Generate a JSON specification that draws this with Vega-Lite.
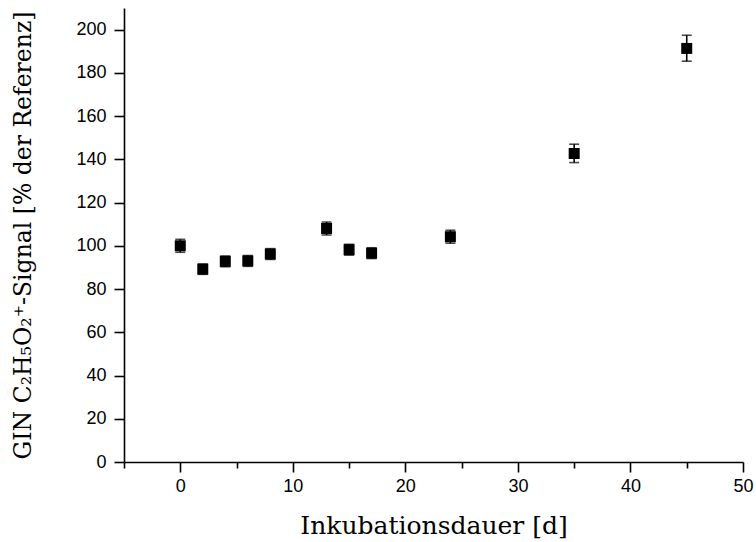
{
  "$schema": "https://vega.github.io/schema/vega-lite/v6.json",
  "width": 619,
  "height": 454,
  "autosize": {"type": "none"},
  "padding": {"left": 124, "top": 8, "right": 13, "bottom": 80},
  "background": "white",
  "config": {
    "view": {"stroke": null},
    "axis": {
      "grid": false,
      "domainColor": "black",
      "domainWidth": 1.6,
      "tickColor": "black",
      "tickWidth": 1.6,
      "labelFont": "Liberation Sans",
      "labelFontSize": 18,
      "labelColor": "black",
      "titleFont": "DejaVu Serif",
      "titleFontSize": 25,
      "titleFontWeight": "normal",
      "titleColor": "black"
    }
  },
  "data": {
    "values": [
      {"t": 0, "signal": 100.0, "lo": 97.0, "hi": 103.0},
      {"t": 2, "signal": 89.2, "lo": 86.8, "hi": 91.6},
      {"t": 4, "signal": 92.8, "lo": 90.3, "hi": 95.3},
      {"t": 6, "signal": 93.0, "lo": 90.5, "hi": 95.5},
      {"t": 8, "signal": 96.2, "lo": 93.7, "hi": 98.7},
      {"t": 13, "signal": 108.0, "lo": 105.0, "hi": 111.0},
      {"t": 15, "signal": 98.2, "lo": 95.7, "hi": 100.7},
      {"t": 17, "signal": 96.6, "lo": 94.1, "hi": 99.1},
      {"t": 24, "signal": 104.2, "lo": 101.2, "hi": 107.2},
      {"t": 35, "signal": 142.7, "lo": 138.5, "hi": 147.0},
      {"t": 45, "signal": 191.3, "lo": 185.4, "hi": 197.4}
    ]
  },
  "encoding": {
    "x": {
      "field": "t",
      "type": "quantitative",
      "scale": {"domain": [-5, 50], "nice": false, "zero": false},
      "axis": {
        "title": "Inkubationsdauer [d]",
        "values": [-5, 0, 5, 10, 15, 20, 25, 30, 35, 40, 45, 50],
        "labelExpr": "datum.value % 10 === 0 ? datum.label : ''",
        "tickSize": {"condition": {"test": "datum.value % 10 === 0", "value": 10}, "value": 6},
        "labelPadding": 5,
        "titlePadding": 18,
        "labelFlush": false
      }
    }
  },
  "layer": [
    {
      "mark": {"type": "rule", "color": "black", "strokeWidth": 1.6},
      "encoding": {
        "y": {
          "field": "lo",
          "type": "quantitative",
          "scale": {"domain": [0, 210], "nice": false},
          "axis": {
            "title": "GIN C₂H₅O₂⁺-Signal [% der Referenz]",
            "titleFontSize": 23.5,
            "values": [0, 10, 20, 30, 40, 50, 60, 70, 80, 90, 100, 110, 120, 130, 140, 150, 160, 170, 180, 190, 200, 210],
            "labelExpr": "datum.value % 20 === 0 && datum.value <= 200 ? datum.label : ''",
            "tickSize": {"condition": {"test": "datum.value % 20 === 0", "value": 10}, "value": 6},
            "labelPadding": 8,
            "titlePadding": 40,
            "labelFlush": false
          }
        },
        "y2": {"field": "hi"}
      }
    },
    {
      "mark": {"type": "tick", "orient": "horizontal", "color": "black", "size": 10, "thickness": 1.6},
      "encoding": {"y": {"field": "lo", "type": "quantitative"}}
    },
    {
      "mark": {"type": "tick", "orient": "horizontal", "color": "black", "size": 10, "thickness": 1.6},
      "encoding": {"y": {"field": "hi", "type": "quantitative"}}
    },
    {
      "mark": {"type": "point", "shape": "square", "filled": true, "color": "black", "opacity": 1, "size": 121},
      "encoding": {"y": {"field": "signal", "type": "quantitative"}}
    }
  ]
}
